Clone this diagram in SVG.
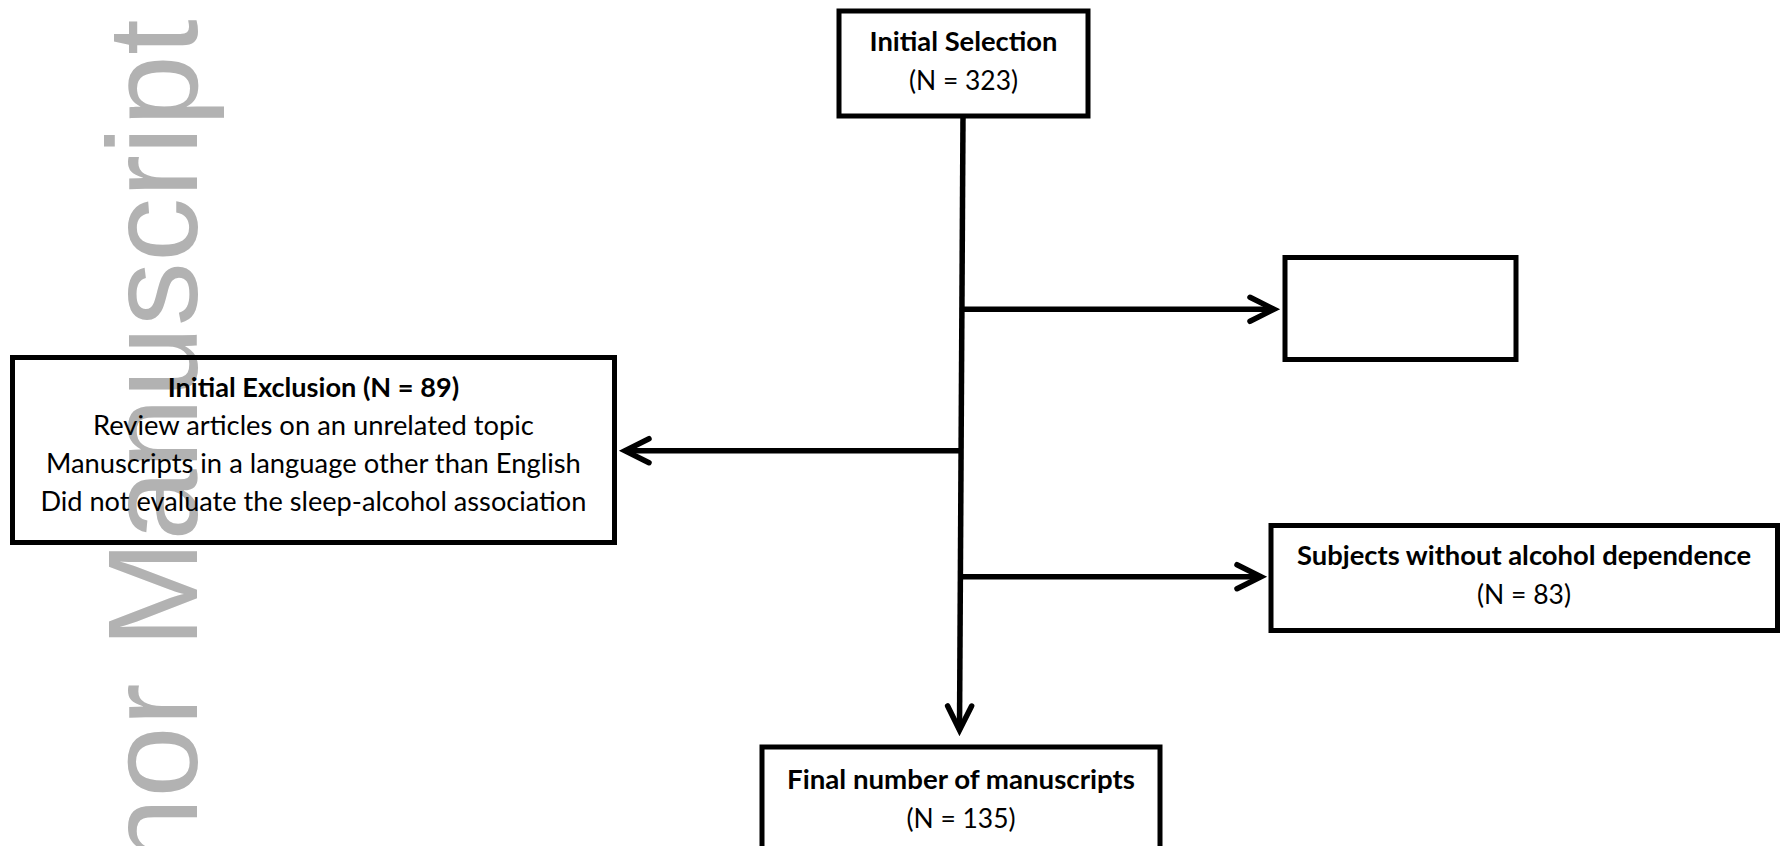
<svg xmlns="http://www.w3.org/2000/svg" width="1786" height="846" viewBox="0 0 1786 846">
<style>
.box{fill:none;stroke:#000;stroke-width:5}
.t{font-family:Lato,"Open Sans","Liberation Sans",sans-serif;font-size:27px;fill:#000;text-anchor:middle}
.b{font-weight:bold}
.conn{fill:none;stroke:#000;stroke-width:5.5}
.wm{font-family:"Liberation Sans",Arial,sans-serif;font-size:128.5px;fill:#b2b2b2}
</style>
<defs>
<marker id="arr" markerUnits="userSpaceOnUse" viewBox="-32 -18 36 36" refX="0" refY="0" markerWidth="36" markerHeight="36" orient="auto" overflow="visible">
<path d="M-24,-12 L0,0 L-24,12" fill="none" stroke="#000" stroke-width="5.5" stroke-linecap="round" stroke-linejoin="miter"/>
</marker>
</defs>
<rect width="1786" height="846" fill="#fff"/>
<text class="wm" transform="translate(196.7,1062) rotate(-90)">Author Manuscript</text>
<g id="connectors">
<path class="conn" d="M963,116 L959.5,730" marker-end="url(#arr)"/>
<path class="conn" d="M963,309.3 H1274" marker-end="url(#arr)"/>
<path class="conn" d="M961,450.7 H625" marker-end="url(#arr)"/>
<path class="conn" d="M960,576.7 H1261" marker-end="url(#arr)"/>
</g>
<g id="initial-selection">
<rect class="box" x="839" y="11" width="249" height="105"/>
<text class="t b" x="963.5" y="51" textLength="188" lengthAdjust="spacingAndGlyphs">Initial Selection</text>
<text class="t" x="963.5" y="90" textLength="109" lengthAdjust="spacingAndGlyphs">(N = 323)</text>
</g>
<g id="empty-box">
<rect class="box" x="1285" y="257.5" width="231" height="102"/>
</g>
<g id="initial-exclusion">
<rect class="box" x="12.5" y="357.5" width="602" height="185"/>
<text class="t b" x="313.4" y="397" textLength="291.5" lengthAdjust="spacingAndGlyphs">Initial Exclusion (N = 89)</text>
<text class="t" x="313.4" y="435" textLength="441" lengthAdjust="spacingAndGlyphs">Review articles on an unrelated topic</text>
<text class="t" x="313.4" y="473" textLength="535" lengthAdjust="spacingAndGlyphs">Manuscripts in a language other than English</text>
<text class="t" x="313.4" y="511" textLength="546" lengthAdjust="spacingAndGlyphs">Did not evaluate the sleep-alcohol association</text>
</g>
<g id="subjects-without">
<rect class="box" x="1271" y="525.5" width="506.5" height="105"/>
<text class="t b" x="1524" y="565" textLength="454" lengthAdjust="spacingAndGlyphs">Subjects without alcohol dependence</text>
<text class="t" x="1524" y="604" textLength="94" lengthAdjust="spacingAndGlyphs">(N = 83)</text>
</g>
<g id="final-number">
<rect class="box" x="762" y="747" width="398" height="130"/>
<text class="t b" x="961" y="789" textLength="348" lengthAdjust="spacingAndGlyphs">Final number of manuscripts</text>
<text class="t" x="961" y="828" textLength="109" lengthAdjust="spacingAndGlyphs">(N = 135)</text>
</g>
</svg>
